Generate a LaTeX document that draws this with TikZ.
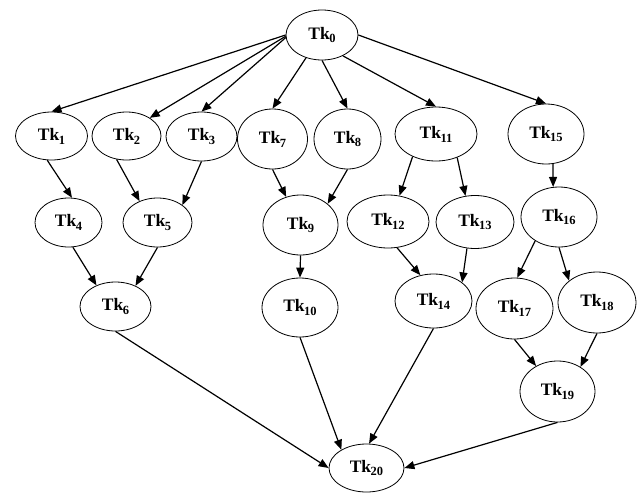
\documentclass[tikz,border=0pt]{standalone}
\usepackage{fontspec}
\setmainfont{Liberation Serif}
\usetikzlibrary{arrows.meta,shapes.geometric}
\newcommand\tkl[1]{\textbf{Tk\kern-0.5pt\raisebox{-0.22em}{\fontsize{12.5}{12.5}\selectfont #1}}}
\tikzset{
  tk/.style={ellipse,draw,line width=0.8pt,inner sep=0pt,font=\fontsize{17.5}{19}\selectfont},
  edge/.style={line width=1.2pt,-{Triangle[length=10pt,width=8pt]},shorten >=0pt}
}
\begin{document}
\begin{tikzpicture}[x=1pt,y=-1pt]
\fill[white] (0,0) rectangle (637,493);
\useasboundingbox (0,0) rectangle (637,493);
\node[tk,minimum width=72pt,minimum height=50pt] (t0) at (322,35) {\tkl{0}};
\node[tk,minimum width=72pt,minimum height=48pt] (t1) at (51.5,136) {\tkl{1}};
\node[tk,minimum width=69pt,minimum height=48pt] (t2) at (126.5,136) {\tkl{2}};
\node[tk,minimum width=71pt,minimum height=49pt] (t3) at (201.5,136.5) {\tkl{3}};
\node[tk,minimum width=70pt,minimum height=60pt] (t7) at (272.5,139) {\tkl{7}};
\node[tk,minimum width=67pt,minimum height=60pt] (t8) at (347.5,139) {\tkl{8}};
\node[tk,minimum width=82pt,minimum height=54pt] (t11) at (436,134) {\tkl{11}};
\node[tk,minimum width=76pt,minimum height=60pt] (t15) at (546,134) {\tkl{15}};
\node[tk,minimum width=67pt,minimum height=49pt] (t4) at (68.5,222.5) {\tkl{4}};
\node[tk,minimum width=69pt,minimum height=49pt] (t5) at (157.5,222.5) {\tkl{5}};
\node[tk,minimum width=75pt,minimum height=60pt] (t9) at (300.5,225) {\tkl{9}};
\node[tk,minimum width=82pt,minimum height=53pt] (t12) at (388,221.5) {\tkl{12}};
\node[tk,minimum width=78pt,minimum height=53pt] (t13) at (475,222) {\tkl{13}};
\node[tk,minimum width=76pt,minimum height=60pt] (t16) at (559,217) {\tkl{16}};
\node[tk,minimum width=71pt,minimum height=49pt] (t6) at (115.5,306.5) {\tkl{6}};
\node[tk,minimum width=76pt,minimum height=59pt] (t10) at (300,307.5) {\tkl{10}};
\node[tk,minimum width=77pt,minimum height=54pt] (t14) at (433.5,301) {\tkl{14}};
\node[tk,minimum width=77pt,minimum height=61pt] (t17) at (514.5,308.5) {\tkl{17}};
\node[tk,minimum width=78pt,minimum height=61pt] (t18) at (597,302.5) {\tkl{18}};
\node[tk,minimum width=75pt,minimum height=61pt] (t19) at (557.5,391.5) {\tkl{19}};
\node[tk,minimum width=75pt,minimum height=48pt] (t20) at (366.5,468) {\tkl{20}};

\draw[edge] (t0.west) -- (t1.north);
\draw[edge] (t0.182) -- (t2.38);
\draw[edge] (t0.184) -- (t3.north);
\draw[edge] (t0.235) -- (t7.north);
\draw[edge] (t0.south) -- (t8.north);
\draw[edge] (t0.315) -- (t11.north);
\draw[edge] (t0.east) -- (t15.north);
\draw[edge] (t1.260) -- (t4.82);
\draw[edge] (t2.247) -- (t5.130);
\draw[edge] (t3.south) -- (t5.35);
\draw[edge] (t7.south) -- (t9.117);
\draw[edge] (t8.south) -- (t9.38);
\draw[edge] (t11.224) -- (t12.66);
\draw[edge] (t11.312) -- (t13.110);
\draw[edge] (t15.283) -- (t16.101);
\draw[edge] (t4.280) -- (t6.132);
\draw[edge] (t5.south) -- (t6.46);
\draw[edge] (t9.south) -- (t10.north);
\draw[edge] (t12.289) -- (t14.117);
\draw[edge] (t13.253) -- (t14.33);
\draw[edge] (t16.225) -- (t17.85);
\draw[edge] (t16.south) -- (t18.142);
\draw[edge] (t17.south) -- (t19.130);
\draw[edge] (t18.south) -- (t19.47);
\draw[edge] (t6.south) -- (t20.west);
\draw[edge] (t10.south) -- (t20.144);
\draw[edge] (t14.south) -- (t20.84);
\draw[edge] (t19.south) -- (t20.east);
\end{tikzpicture}
\end{document}
